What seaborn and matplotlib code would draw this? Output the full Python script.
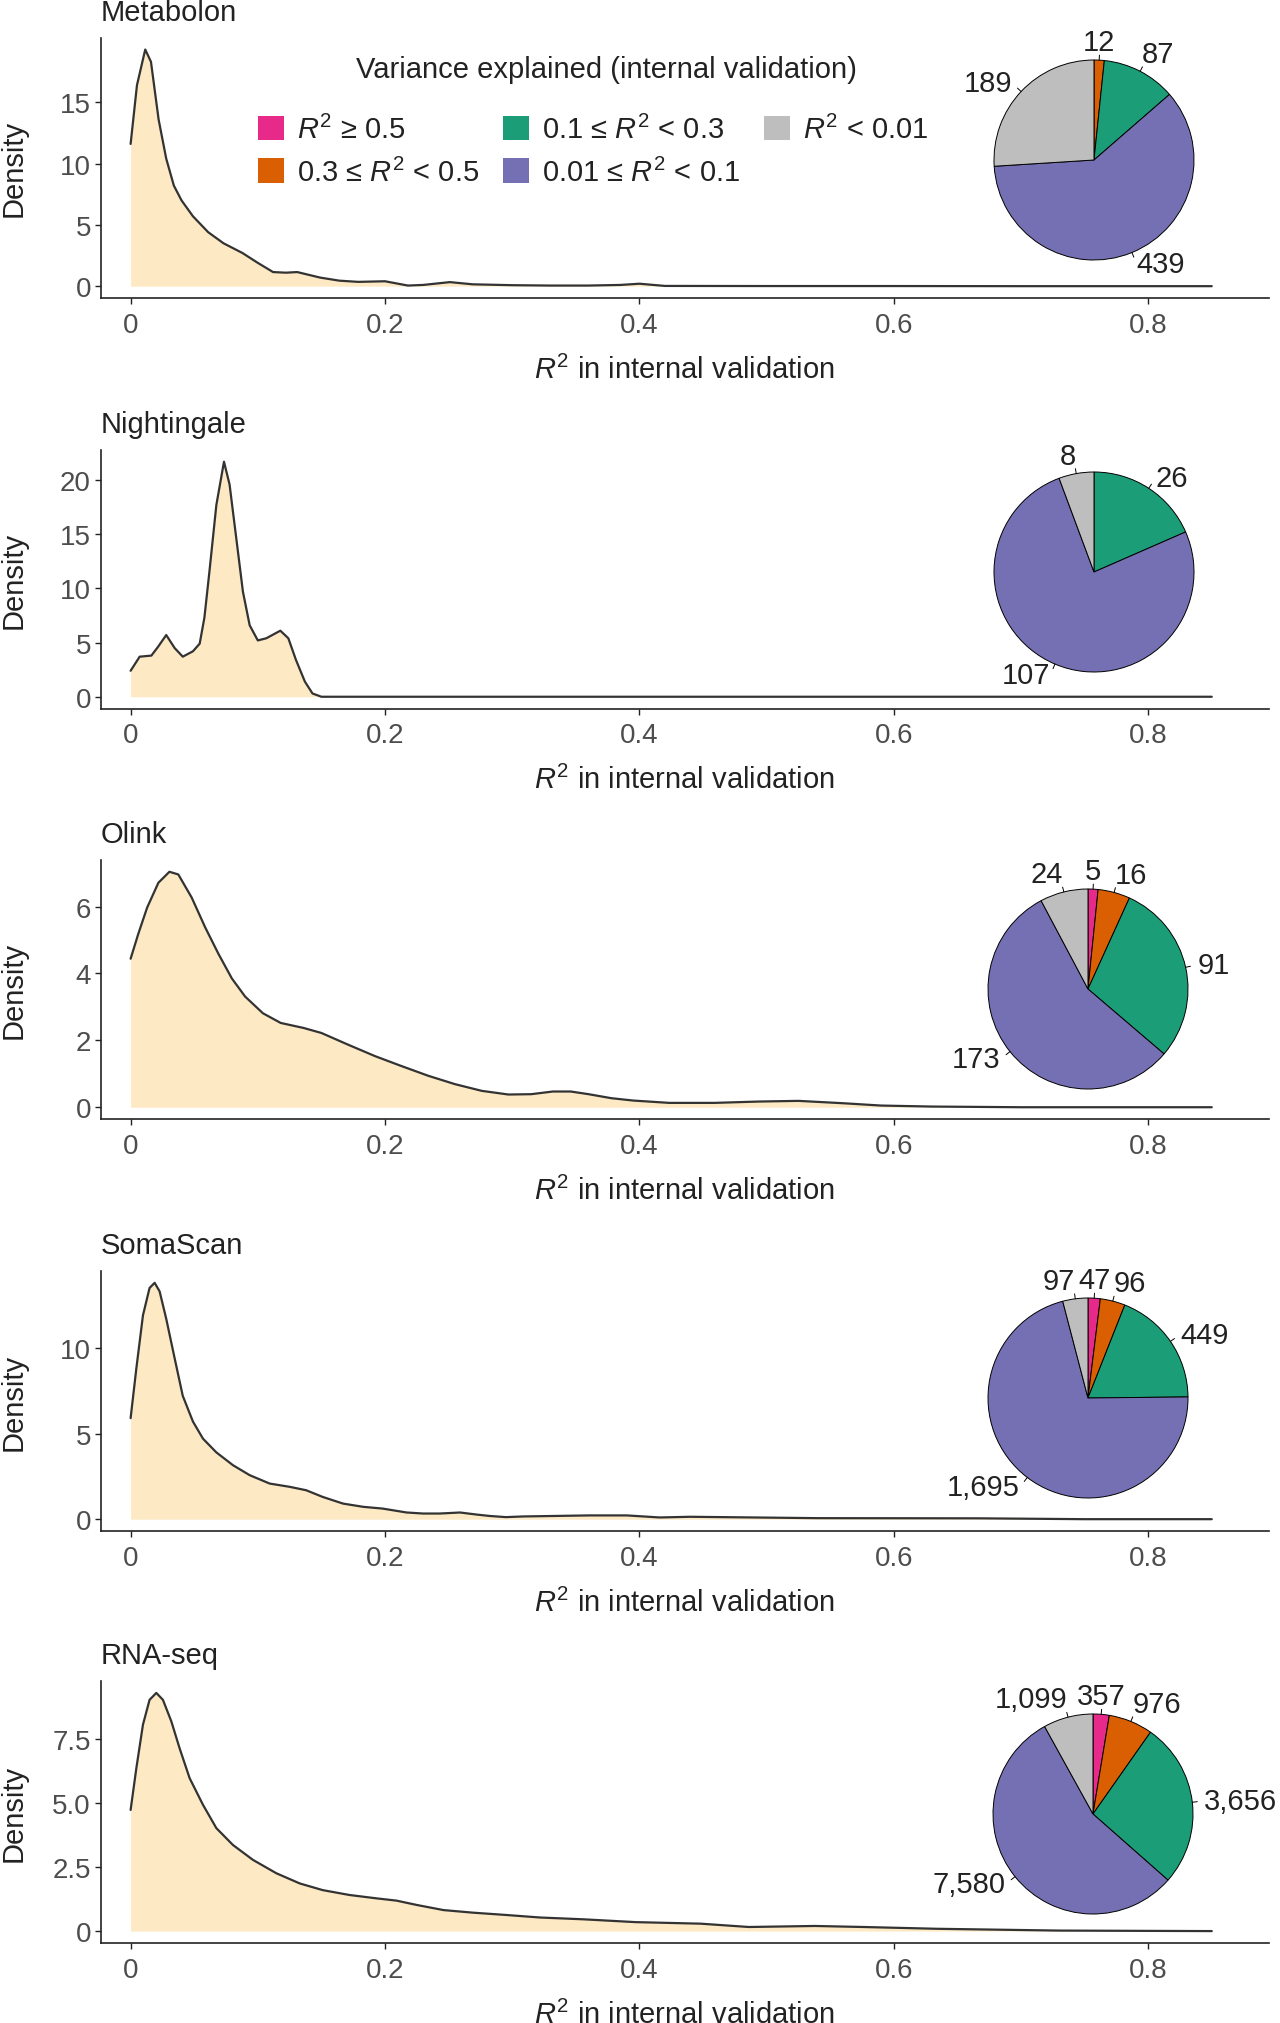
import matplotlib
matplotlib.use("Agg")
import matplotlib.pyplot as plt
from matplotlib.patches import Patch
import numpy as np
import pandas as pd
import seaborn as sns

# density curves (R2 value, density)
metabolon_x = [0, 0.005, 0.0115, 0.016, 0.022, 0.028, 0.034, 0.040, 0.049, 0.061, 0.073, 0.088,
               0.100, 0.112, 0.122, 0.131, 0.149, 0.164, 0.179, 0.200, 0.218, 0.230, 0.251, 0.269,
               0.300, 0.330, 0.360, 0.385, 0.400, 0.420, 0.500, 0.600, 0.700, 0.850]
metabolon_y = [11.6, 16.4, 19.3, 18.3, 13.6, 10.4, 8.2, 7.0, 5.7, 4.4, 3.5, 2.7,
               1.9, 1.15, 1.1, 1.15, 0.7, 0.45, 0.35, 0.4, 0.05, 0.1, 0.33, 0.15,
               0.08, 0.05, 0.05, 0.1, 0.2, 0.02, 0.01, 0.01, 0.0, 0.0]

nightingale_x = [0, 0.0071, 0.0163, 0.0215, 0.028, 0.0346, 0.041, 0.049, 0.0543, 0.058, 0.062,
                 0.0674, 0.0734, 0.0778, 0.083, 0.0883, 0.0936, 0.100, 0.1067, 0.1177, 0.124,
                 0.130, 0.137, 0.143, 0.150, 0.30, 0.50, 0.70, 0.85]
nightingale_y = [2.4, 3.7, 3.8, 4.6, 5.7, 4.5, 3.7, 4.2, 4.9, 7.3, 11.6,
                 17.7, 21.7, 19.6, 14.7, 9.7, 6.6, 5.2, 5.4, 6.1, 5.4,
                 3.4, 1.4, 0.3, 0, 0, 0, 0, 0]

olink_x = [0, 0.006, 0.013, 0.0218, 0.0305, 0.0375, 0.048, 0.0586, 0.069, 0.0796, 0.09, 0.104,
           0.118, 0.136, 0.15, 0.171, 0.192, 0.213, 0.234, 0.255, 0.276, 0.297, 0.315, 0.332,
           0.346, 0.360, 0.378, 0.395, 0.4235, 0.459, 0.494, 0.525, 0.56, 0.59, 0.63, 0.70, 0.85]
olink_y = [4.44, 5.18, 5.97, 6.71, 7.04, 6.96, 6.27, 5.38, 4.59, 3.85, 3.31, 2.81,
           2.52, 2.37, 2.22, 1.87, 1.53, 1.23, 0.94, 0.69, 0.49, 0.38, 0.39, 0.47,
           0.47, 0.39, 0.27, 0.2, 0.13, 0.13, 0.17, 0.19, 0.12, 0.05, 0.02, 0.0, 0.0]

somascan_x = [0, 0.0045, 0.0097, 0.0149, 0.0189, 0.0228, 0.028, 0.0346, 0.041, 0.049, 0.0569,
              0.0674, 0.0805, 0.0936, 0.1093, 0.125, 0.138, 0.151, 0.167, 0.183, 0.198, 0.217,
              0.23, 0.243, 0.259, 0.272, 0.282, 0.295, 0.309, 0.335, 0.361, 0.39, 0.416, 0.44,
              0.54, 0.666, 0.75, 0.85]
somascan_y = [5.9, 8.8, 11.9, 13.5, 13.8, 13.3, 11.7, 9.4, 7.2, 5.7, 4.7,
              3.9, 3.15, 2.57, 2.08, 1.89, 1.69, 1.30, 0.91, 0.72, 0.62, 0.39,
              0.33, 0.33, 0.39, 0.27, 0.19, 0.12, 0.16, 0.19, 0.22, 0.22, 0.1, 0.14,
              0.06, 0.05, 0.0, 0.0]

rnaseq_x = [0, 0.0045, 0.0097, 0.0149, 0.0202, 0.0254, 0.032, 0.0385, 0.0464, 0.0569, 0.0674,
            0.0805, 0.0962, 0.1145, 0.133, 0.151, 0.172, 0.193, 0.209, 0.225, 0.246, 0.269,
            0.295, 0.322, 0.356, 0.397, 0.448, 0.486, 0.538, 0.576, 0.634, 0.73, 0.85]
rnaseq_y = [4.73, 6.36, 8.06, 9.03, 9.3, 9.03, 8.19, 7.14, 5.97, 4.93, 4.02,
            3.36, 2.78, 2.26, 1.86, 1.60, 1.41, 1.28, 1.19, 1.02, 0.82, 0.72,
            0.63, 0.53, 0.46, 0.35, 0.29, 0.16, 0.2, 0.16, 0.09, 0.02, 0.0]

# pie counts, order: R2>=0.5, 0.3-0.5, 0.1-0.3, 0.01-0.1, <0.01
metabolon_counts = [0, 12, 87, 439, 189]
nightingale_counts = [0, 0, 26, 107, 8]
olink_counts = [5, 16, 91, 173, 24]
somascan_counts = [47, 96, 449, 1695, 97]
rnaseq_counts = [357, 976, 3656, 7580, 1099]

panel_names = ["Metabolon", "Nightingale", "Olink", "SomaScan", "RNA-seq"]
curves_x = [metabolon_x, nightingale_x, olink_x, somascan_x, rnaseq_x]
curves_y = [metabolon_y, nightingale_y, olink_y, somascan_y, rnaseq_y]
counts = [metabolon_counts, nightingale_counts, olink_counts, somascan_counts, rnaseq_counts]

category_labels = [r"$R^2$ ≥ 0.5", r"0.3 ≤ $R^2$ < 0.5", r"0.1 ≤ $R^2$ < 0.3",
                   r"0.01 ≤ $R^2$ < 0.1", r"$R^2$ < 0.01"]
category_colors = ["#E7298A", "#D95F02", "#1B9E77", "#7570B3", "#BEBEBE"]

x_ticks = [0, 0.2, 0.4, 0.6, 0.8]
x_ticklabels = ["0", "0.2", "0.4", "0.6", "0.8"]
y_ticks = [[0, 5, 10, 15], [0, 5, 10, 15, 20], [0, 2, 4, 6], [0, 5, 10], [0, 2.5, 5, 7.5]]
y_ticklabels = [["0", "5", "10", "15"], ["0", "5", "10", "15", "20"], ["0", "2", "4", "6"],
                ["0", "5", "10"], ["0", "2.5", "5.0", "7.5"]]

sns.set_theme(style="ticks")
plt.rcParams["font.family"] = ["Liberation Sans", "DejaVu Sans"]
plt.rcParams["mathtext.fontset"] = "custom"
plt.rcParams["mathtext.rm"] = "Liberation Sans"
plt.rcParams["mathtext.it"] = "Liberation Sans:italic"

W, H = 1280, 2024
fig = plt.figure(figsize=(W / 100, H / 100), dpi=100)


def box(left, top, right, bottom):
    return [left / W, 1 - bottom / H, (right - left) / W, (bottom - top) / H]


ax_left, ax_right = 100.6, 1269
ax_tops = [38.7, 451, 861, 1272, 1682]
ax_bottoms = [299, 709.5, 1120, 1532, 1944]
pie_centers = [(1094, 161), (1094, 573), (1088, 990), (1088, 1399), (1093, 1815)]
pie_r = 100

fill_color = "#FDE9C4"
line_color = "#333333"
text_color = "#222222"
tick_color = "#4D4D4D"

for i, name in enumerate(panel_names):
    ax = fig.add_axes(box(ax_left, ax_tops[i], ax_right, ax_bottoms[i]))
    df = pd.DataFrame({"r2": curves_x[i], "density": curves_y[i]})
    ax.fill_between(df["r2"], df["density"], color=fill_color, lw=0)
    sns.lineplot(data=df, x="r2", y="density", ax=ax, color=line_color, lw=1.6)
    ymax = df["density"].max()
    ax.set_ylim(-0.05 * ymax, 1.05 * ymax)
    ax.set_xlim(-0.0236, 0.895)
    ax.set_xticks(x_ticks)
    ax.set_xticklabels(x_ticklabels)
    ax.set_yticks(y_ticks[i])
    ax.set_yticklabels(y_ticklabels[i])
    sns.despine(ax=ax)
    for sp in ["left", "bottom"]:
        ax.spines[sp].set_linewidth(1.2)
        ax.spines[sp].set_color(text_color)
    ax.tick_params(direction="out", length=4, width=1, color=text_color,
                   labelcolor=tick_color, labelsize=20, pad=3)
    ax.tick_params(axis="x", pad=6)
    ax.set_xlabel(r"$R^2$ in internal validation", fontsize=21, color=text_color, labelpad=12)
    ax.set_ylabel("Density", fontsize=21, color=text_color)
    ax.yaxis.set_label_coords((28 - ax_left) / (ax_right - ax_left), 0.5)
    ax.set_title(name, loc="left", fontsize=21, color=text_color, pad=13)

    # pie inset
    cx, cy = pie_centers[i]
    pax = fig.add_axes(box(cx - pie_r, cy - pie_r, cx + pie_r, cy + pie_r))
    vals = [v for v in counts[i] if v > 0]
    cols = [c for v, c in zip(counts[i], category_colors) if v > 0]
    pax.pie(vals, colors=cols, startangle=90, counterclock=False, radius=1,
            wedgeprops=dict(edgecolor="black", linewidth=0.7))
    pax.set_xlim(-1, 1)
    pax.set_ylim(-1, 1)
    pax.set_axis_off()
    total = sum(vals)
    cum = 0
    for v in vals:
        theta = np.deg2rad((cum + v / 2) / total * 360)
        cum += v
        s, c = np.sin(theta), np.cos(theta)
        pax.plot([s, 1.05 * s], [c, 1.05 * c], color="black", lw=0.7, clip_on=False)
        if c > 0.85:
            va, L = "bottom", 1.04
        else:
            va, L = "center", 1.12
        if abs(s) < 0.1:
            ha = "center"
        elif s > 0:
            ha = "left"
        else:
            ha = "right"
        pax.text(L * s, L * c, f"{v:,}", ha=ha, va=va, fontsize=21, color=text_color,
                 clip_on=False)

handles = [Patch(facecolor=c, edgecolor="none") for c in category_colors]
fig.legend(handles, category_labels, ncol=3, loc="upper left",
           bbox_to_anchor=(258 / W, 1 - 116 / H), frameon=False, borderpad=0,
           borderaxespad=0, handlelength=0.9, handleheight=0.9, handletextpad=0.45,
           columnspacing=0.8, labelspacing=0.45, fontsize=21, labelcolor=text_color)
fig.text(606 / W, 1 - 70 / H, "Variance explained (internal validation)", ha="center",
         va="center", fontsize=21, color=text_color)

fig.savefig("out.png", dpi=100)
